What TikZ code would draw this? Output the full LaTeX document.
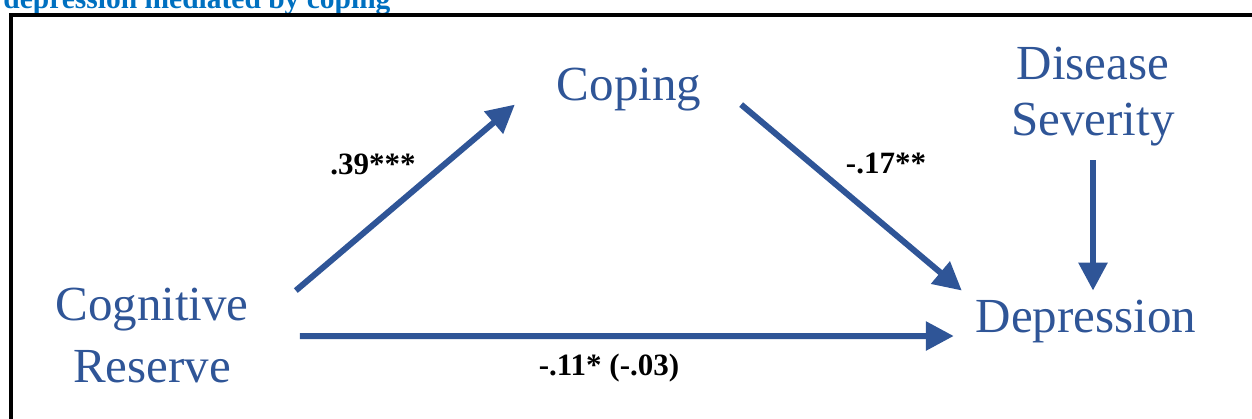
\documentclass[tikz,border=0pt]{standalone}
\usepackage{fontspec}
\setmainfont{Liberation Serif}
\usetikzlibrary{arrows.meta}
\definecolor{pathblue}{HTML}{2F5597}
\definecolor{titleblue}{HTML}{0070C0}

\begin{document}
\begin{tikzpicture}[
  x=0.5pt, y=-0.5pt,
  var/.style={text=pathblue, align=center, inner sep=0pt, outer sep=0pt, anchor=base, font=\fontsize{24.5}{29}\selectfont},
  coef/.style={anchor=base, inner sep=0pt, font=\fontsize{15.5}{18}\selectfont\bfseries},
  effect/.style={-{Triangle[length=14pt,width=14pt]}, line width=3pt, draw=pathblue}
]
\useasboundingbox (0,0) rectangle (1252,418);

% caption cut at the top and the frame
\node[anchor=base west, inner sep=0pt, text=titleblue, font=\fontsize{14.75}{17}\selectfont\bfseries] (caption) at (3,8) {depression mediated by coping};
\draw[line width=2pt] (10.5,440) |- (1270,14.5);

\node[var, font=\fontsize{24.5}{31}\selectfont] (cogres) at (152,382) {Cognitive\\Reserve};
\node[var] (coping) at (629,100) {Coping};
\node[var, font=\fontsize{24.5}{28}\selectfont] (severity) at (1093,135) {Disease\\Severity};
\node[var] (depression) at (1086,332) {Depression};

\draw[effect] ([xshift=23.6pt,yshift=-1.5pt]cogres.north east) -- ([xshift=-21pt,yshift=3pt]coping.south west);
\draw[effect] ([xshift=20pt,yshift=3pt]coping.south east) -- ([xshift=-7pt,yshift=4.5pt]depression.north west);
\draw[effect] ([xshift=25.6pt,yshift=-0.6pt]cogres.east) -- ([xshift=-11pt,yshift=-2pt]depression.base west);
\draw[effect] ([yshift=-7.25pt]severity.south) -- ([yshift=4.5pt]severity.south |- depression.north);

\node[coef] (a) at (373,174) {.39***};
\node[coef] (b) at (886,173) {-.17**};
\node[coef] (c) at (609,375) {-.11* (-.03)};
\end{tikzpicture}
\end{document}
